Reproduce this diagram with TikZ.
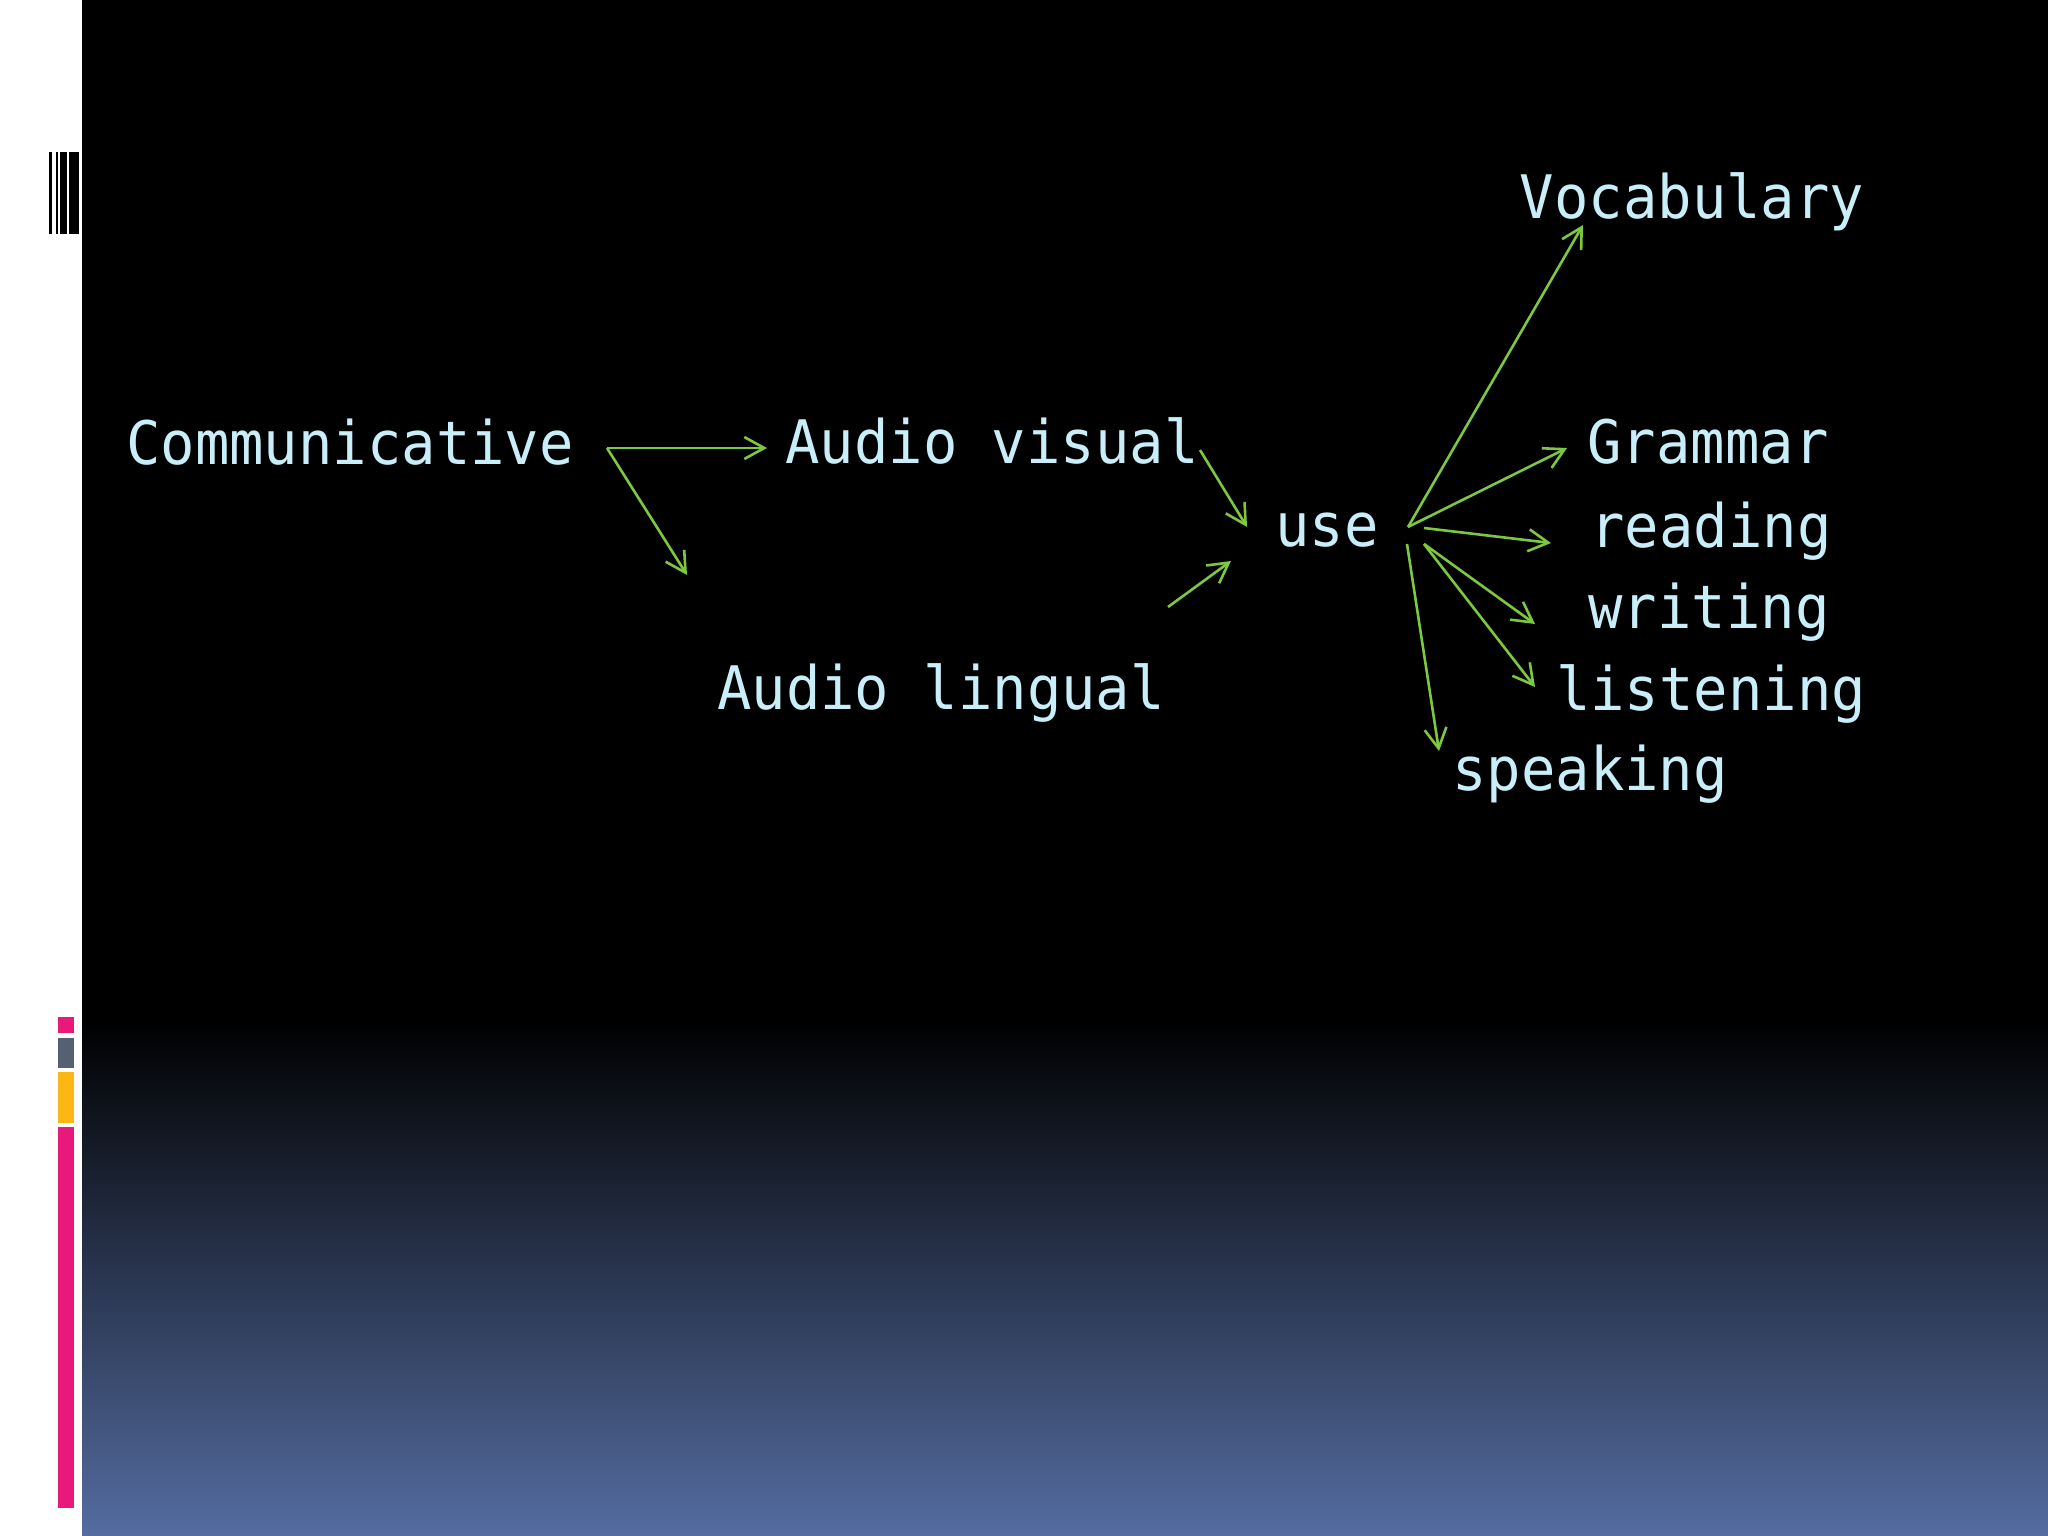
\documentclass[tikz,border=0pt]{standalone}
\usepackage{fontspec}
\usepackage{tikz}
\usetikzlibrary{arrows.meta,positioning}
\newfontfamily\slidefont[FakeStretch=0.953]{DejaVu Sans Mono}
\definecolor{txtcyan}{RGB}{200,238,250}
\definecolor{arrgreen}{RGB}{124,200,64}
\definecolor{bgblue}{RGB}{84,108,160}
\definecolor{barpink}{RGB}{232,25,122}
\definecolor{bargray}{RGB}{86,96,115}
\definecolor{baryellow}{RGB}{253,183,20}

\begin{document}
\begin{tikzpicture}[x=1pt,y=-1pt,
    word/.style={text=txtcyan,inner sep=0pt,anchor=base,
      font=\slidefont\fontsize{60}{72}\selectfont},
    arr/.style={->,>={Straight Barb[length=20pt,width=22pt]},draw=arrgreen,line width=2.6pt}]
  \useasboundingbox (0,0) rectangle (2048,1536);
  % background
  \fill[black] (82,0) rectangle (2048,1022);
  \shade[top color=black,bottom color=bgblue] (82,1020) rectangle (2048,1536);
  \fill[white] (0,0) rectangle (82,1536);
  \fill[black] (49.3,152) rectangle (51.7,234);
  \fill[black] (56,152) rectangle (58.3,234);
  \fill[black] (60.3,152) rectangle (66.7,234);
  \fill[black] (69,152) rectangle (79.3,234);
  \fill[barpink] (57.5,1017) rectangle (74,1033);
  \fill[bargray] (57.5,1038) rectangle (74,1068);
  \fill[baryellow] (57.5,1072) rectangle (74,1123);
  \fill[barpink] (57.5,1127) rectangle (74,1508);

  \node[word] (comm) at (350,464) {Communicative};
  \node[word] (avis) at (992,463) {Audio visual};
  \node[word] (alin) at (941,709) {Audio lingual};
  \node[word] (use) at (1327,546) {use};
  \node[word] (voc) at (1692,218) {Vocabulary};
  \node[word] (gram) at (1708,463) {Grammar};
  \node[word] (read) at (1711,547) {reading};
  \node[word] (writ) at (1709,628) {writing};
  \node[word] (list) at (1711,710) {listening};
  \node[word] (speak) at (1590,790) {speaking};

  \coordinate (fork) at (607,448);
  \coordinate (avis-in) at (767,448);
  \coordinate (alin-in) at (687,575);
  \coordinate (avis-out) at (1200,450);
  \coordinate (alin-out) at (1168,607);
  \coordinate (use-in1) at (1247,527);
  \coordinate (use-in2) at (1231,561);
  \coordinate (fanA) at (1408,527);
  \coordinate (fanB) at (1424,528);
  \coordinate (fanC) at (1424,544);
  \coordinate (fanD) at (1407,544);
  \coordinate (voc-in) at (1583,225);
  \coordinate (gram-in) at (1567,448);
  \coordinate (read-in) at (1551,543);
  \coordinate (writ-in) at (1535,624);
  \coordinate (list-in) at (1535,687);
  \coordinate (speak-in) at (1439,751);

  \draw[arr] (fork) -- (avis-in);
  \draw[arr] (fork) -- (alin-in);
  \draw[arr] (avis-out) -- (use-in1);
  \draw[arr] (alin-out) -- (use-in2);
  \draw[arr] (fanA) -- (voc-in);
  \draw[arr] (fanA) -- (gram-in);
  \draw[arr] (fanB) -- (read-in);
  \draw[arr] (fanC) -- (writ-in);
  \draw[arr] (fanC) -- (list-in);
  \draw[arr] (fanD) -- (speak-in);
\end{tikzpicture}
\end{document}
